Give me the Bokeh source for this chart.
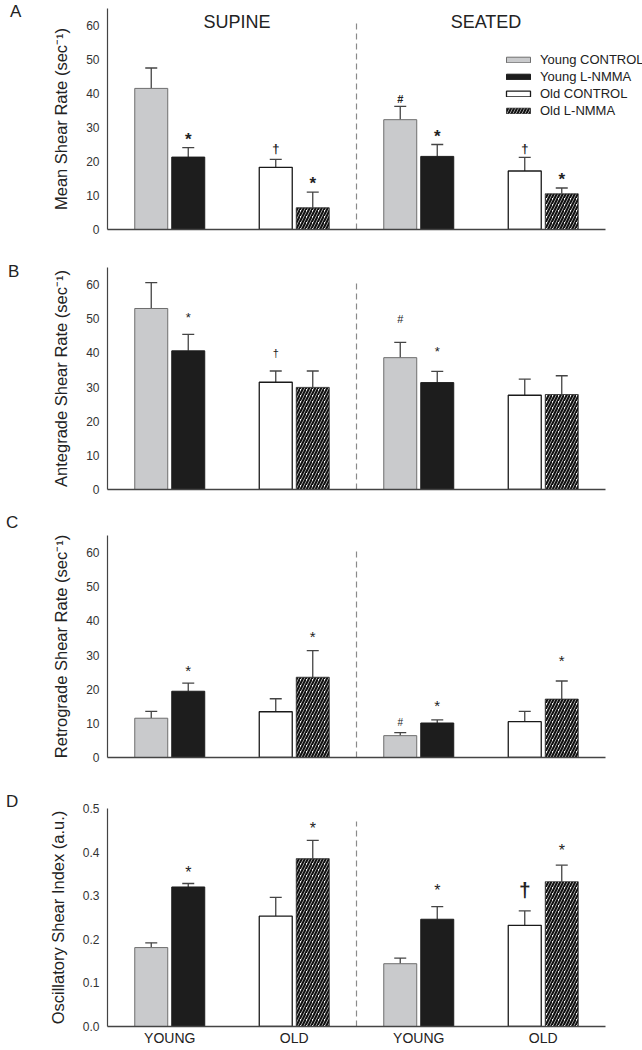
from bokeh.plotting import figure
from bokeh.layouts import column, row
from bokeh.models import (Range1d, Legend, LegendItem, ColumnDataSource, Div,
                          FixedTicker, Whisker, TeeHead, PrintfTickFormatter)
from bokeh.core.properties import value
from bokeh.embed import file_html
from bokeh.resources import INLINE

# ---------------- data ----------------
postures = ["SUPINE", "SEATED"]
age_groups = ["YOUNG", "OLD"]
series_names = ["Young CONTROL", "Young L-NMMA", "Old CONTROL", "Old L-NMMA"]
panel_letters = ["A", "B", "C", "D"]

# order in each list: supine YC, YL, OC, OL, seated YC, YL, OC, OL
mean_sr = [41.5, 21.3, 18.3, 6.4, 32.3, 21.5, 17.2, 10.5]
mean_sr_err = [6.0, 2.8, 2.3, 4.6, 3.9, 3.5, 4.0, 1.7]
mean_sr_sig = ["", "*", "†", "*", "#", "*", "†", "*"]
mean_sr_sig_y = [0, 27.4, 23.4, 14.4, 38.2, 28.3, 23.2, 15.7]

ante_sr = [53.0, 40.6, 31.4, 29.9, 38.6, 31.3, 27.6, 27.8]
ante_sr_err = [7.6, 4.8, 3.3, 4.8, 4.5, 3.3, 4.7, 5.5]
ante_sr_sig = ["", "*", "†", "", "#", "*", "", ""]
ante_sr_sig_y = [0, 51.0, 39.6, 0, 49.9, 41.1, 0, 0]

retro_sr = [11.5, 19.4, 13.4, 23.5, 6.4, 10.1, 10.5, 17.1]
retro_sr_err = [2.0, 2.4, 3.8, 7.8, 0.9, 0.9, 3.0, 5.3]
retro_sr_sig = ["", "*", "", "*", "#", "*", "", "*"]
retro_sr_sig_y = [0, 26.4, 0, 36.2, 10.3, 16.1, 0, 29.3]

osi = [0.181, 0.320, 0.253, 0.385, 0.144, 0.246, 0.232, 0.332]
osi_err = [0.011, 0.008, 0.043, 0.042, 0.013, 0.029, 0.033, 0.038]
osi_sig = ["", "*", "", "*", "", "*", "†", "*"]
osi_sig_y = [0, 0.360, 0, 0.460, 0, 0.319, 0.308, 0.410]

rate_ticks = [0, 10, 20, 30, 40, 50, 60]
osi_ticks = [0.0, 0.1, 0.2, 0.3, 0.4, 0.5]

# ---------------- styling / layout ----------------
FONT = "Liberation Sans"
LETTER_W = 20
BL = 77
AXIS_W = 498          # pixel length of the x axis (4 groups)
FRAME_W = 542         # frame is wider so the legend can reach past the axis end
BR = 1
FW = BL + FRAME_W + BR
N_GROUPS = len(postures) * len(age_groups)
X_END = N_GROUPS * FRAME_W / AXIS_W
AXIS_C = "#444444"
TEXT_C = "#333333"

series_style = [
    dict(fill_color="#c9cacc", line_color="#6e6e6e", line_width=1.0),
    dict(fill_color="#1d1d1d", line_color="#1d1d1d", line_width=1.0),
    dict(fill_color="#ffffff", line_color="#1a1a1a", line_width=1.3),
    dict(fill_color="#ffffff", line_color="#2a2a2a", line_width=0.8,
         hatch_pattern="/", hatch_color="#111111", hatch_scale=6, hatch_weight=2.2),
]

BAR_W = 0.265
OFFSET = 0.1486

def bar_x(i):
    post = i // 4
    s = i % 4
    age = s // 2
    treat = s % 2
    return 0.5 + 2 * post + age + (treat - 0.5) * 2 * OFFSET

panels = [
    dict(ylabel="Mean Shear Rate (sec\u207b\u00b9)", vals=mean_sr, errs=mean_sr_err,
         sig=mean_sr_sig, sig_y=mean_sr_sig_y, ymax=65, ticks=rate_ticks, fmt="%d",
         bt=8, fh=221, bb=10, sizes={"*": 17, "†": 13, "#": 11}, bold=True,
         letter_top=-2, letter_left=5),
    dict(ylabel="Antegrade Shear Rate (sec\u207b\u00b9)", vals=ante_sr, errs=ante_sr_err,
         sig=ante_sr_sig, sig_y=ante_sr_sig_y, ymax=65, ticks=rate_ticks, fmt="%d",
         bt=28, fh=222, bb=10, sizes={"*": 13, "†": 11, "#": 11}, bold=False,
         letter_top=258, letter_left=3),
    dict(ylabel="Retrograde Shear Rate (sec\u207b\u00b9)", vals=retro_sr, errs=retro_sr_err,
         sig=retro_sr_sig, sig_y=retro_sr_sig_y, ymax=65, ticks=rate_ticks, fmt="%d",
         bt=36, fh=222, bb=10, sizes={"*": 15, "†": 12, "#": 10}, bold=False,
         letter_top=509, letter_left=1),
    dict(ylabel="Oscillatory Shear Index (a.u.)", vals=osi, errs=osi_err,
         sig=osi_sig, sig_y=osi_sig_y, ymax=0.5, ticks=osi_ticks, fmt="%.1f",
         bt=41, fh=221, bb=19, sizes={"*": 16, "†": 21, "#": 11}, bold=False,
         letter_top=788, letter_left=1),
]

# vertical position of each symbol's visual centre relative to the text anchor (in em)
sym_center = {"*": 0.19, "#": -0.02, "†": -0.13}

figs = []
total_h = 0
for pi, cfg in enumerate(panels):
    ymax = cfg["ymax"]
    fh = cfg["fh"]
    h = cfg["bt"] + fh + cfg["bb"]
    total_h += h
    p = figure(width=FW, height=h,
               x_range=Range1d(0, X_END), y_range=Range1d(0, ymax),
               output_backend="svg", toolbar_location=None,
               min_border_left=BL, min_border_right=BR,
               min_border_top=cfg["bt"], min_border_bottom=cfg["bb"])
    p.outline_line_color = None
    p.xgrid.visible = False
    p.ygrid.visible = False
    p.background_fill_color = "white"
    p.border_fill_color = "white"

    # y axis
    ya = p.yaxis[0]
    ya.ticker = FixedTicker(ticks=cfg["ticks"])
    ya.formatter = PrintfTickFormatter(format=cfg["fmt"])
    ya.axis_label = cfg["ylabel"]
    ya.axis_label_text_font = FONT
    ya.axis_label_text_font_size = "16.5px"
    ya.axis_label_text_font_style = "normal"
    ya.axis_label_text_color = "#222222"
    ya.axis_label_standoff = 13
    ya.major_label_text_font = FONT
    ya.major_label_text_font_size = "12px"
    ya.major_label_text_color = TEXT_C
    ya.major_label_standoff = 8
    ya.major_tick_out = 0
    ya.major_tick_in = 0
    ya.minor_tick_out = 0
    ya.minor_tick_in = 0
    ya.axis_line_color = AXIS_C
    ya.axis_line_width = 1.2

    # x axis (line limited to the four groups)
    xa = p.xaxis[0]
    xa.bounds = (0, N_GROUPS)
    xa.axis_line_color = AXIS_C
    xa.axis_line_width = 1.3
    xa.major_tick_out = 0
    xa.major_tick_in = 0
    xa.minor_tick_out = 0
    xa.minor_tick_in = 0
    if pi == 3:
        centers = [0.5 + g for g in range(N_GROUPS)]
        xa.ticker = FixedTicker(ticks=centers)
        xa.major_label_overrides = {c: age_groups[k % 2] for k, c in enumerate(centers)}
        xa.major_label_text_font = FONT
        xa.major_label_text_font_size = "14px"
        xa.major_label_text_color = "#222222"
        xa.major_label_standoff = 3
    else:
        xa.ticker = FixedTicker(ticks=[])
        xa.major_label_standoff = 0

    # divider between postures
    p.segment(x0=[2], y0=[0], x1=[2], y1=[0.94 * ymax], line_color="#8a8a8a",
              line_width=1.2, line_dash="6 4")

    vals, errs = cfg["vals"], cfg["errs"]
    renderers = []
    for s in range(4):
        idx = [s, s + 4]
        src = ColumnDataSource(dict(
            x=[bar_x(i) for i in idx],
            top=[vals[i] for i in idx],
            upper=[vals[i] + errs[i] for i in idx],
        ))
        w = Whisker(base="x", lower="top", upper="upper", source=src, dimension="height",
                    line_color=AXIS_C, line_width=1.3, lower_head=None,
                    upper_head=TeeHead(size=12, line_color=AXIS_C, line_width=1.3),
                    level="underlay")
        p.add_layout(w)
        r = p.vbar(x="x", top="top", bottom=0, width=BAR_W, source=src, **series_style[s])
        renderers.append(r)

    # significance symbols
    upp = ymax / fh
    for sym, size in cfg["sizes"].items():
        xs, ys = [], []
        for i, (sg, sy) in enumerate(zip(cfg["sig"], cfg["sig_y"])):
            if sg == sym:
                xs.append(bar_x(i))
                ys.append(sy - sym_center[sym] * size * upp)
        if xs:
            bold = cfg["bold"] or (sym == "†" and pi == 3)
            p.text(x=xs, y=ys, text=[sym] * len(xs), text_align="center",
                   text_baseline="alphabetic", text_font=value(FONT),
                   text_font_size=f"{size}px", text_color="#222222",
                   text_font_style="bold" if bold else "normal")

    if pi == 0:
        # posture headings
        p.text(x=[1.04 + 2 * k for k in range(2)], y=[0.94 * ymax] * 2, text=postures,
               text_align="center", text_baseline="middle", text_font=value(FONT),
               text_font_size="18px", text_color="#222222")
        legend = Legend(items=[LegendItem(label=series_names[s], renderers=[renderers[s]])
                               for s in range(4)],
                        location=(396, 111))
        legend.glyph_width = 30
        legend.glyph_height = 7
        legend.label_standoff = 7
        legend.spacing = 2
        legend.padding = 0
        legend.margin = 0
        legend.border_line_color = None
        legend.background_fill_alpha = 0
        legend.label_text_font = FONT
        legend.label_text_font_size = "13px"
        legend.label_text_color = "#222222"
        legend.label_height = 15
        p.add_layout(legend)

    figs.append(p)

spans = "".join(
    f'<span style="position:absolute;left:{cfg["letter_left"]}px;top:{cfg["letter_top"]}px;">{L}</span>'
    for L, cfg in zip(panel_letters, panels))
letters = Div(width=LETTER_W, height=total_h,
              text=f'<div style="position:relative;width:{LETTER_W}px;height:{total_h}px;'
                   f'font-family:\'Liberation Sans\',Arial,sans-serif;font-size:17px;'
                   f'line-height:17px;color:#222222;">{spans}</div>')

layout = row(letters, column(*figs, spacing=0), spacing=0)
open("out.html", "w").write(file_html(layout, INLINE))
